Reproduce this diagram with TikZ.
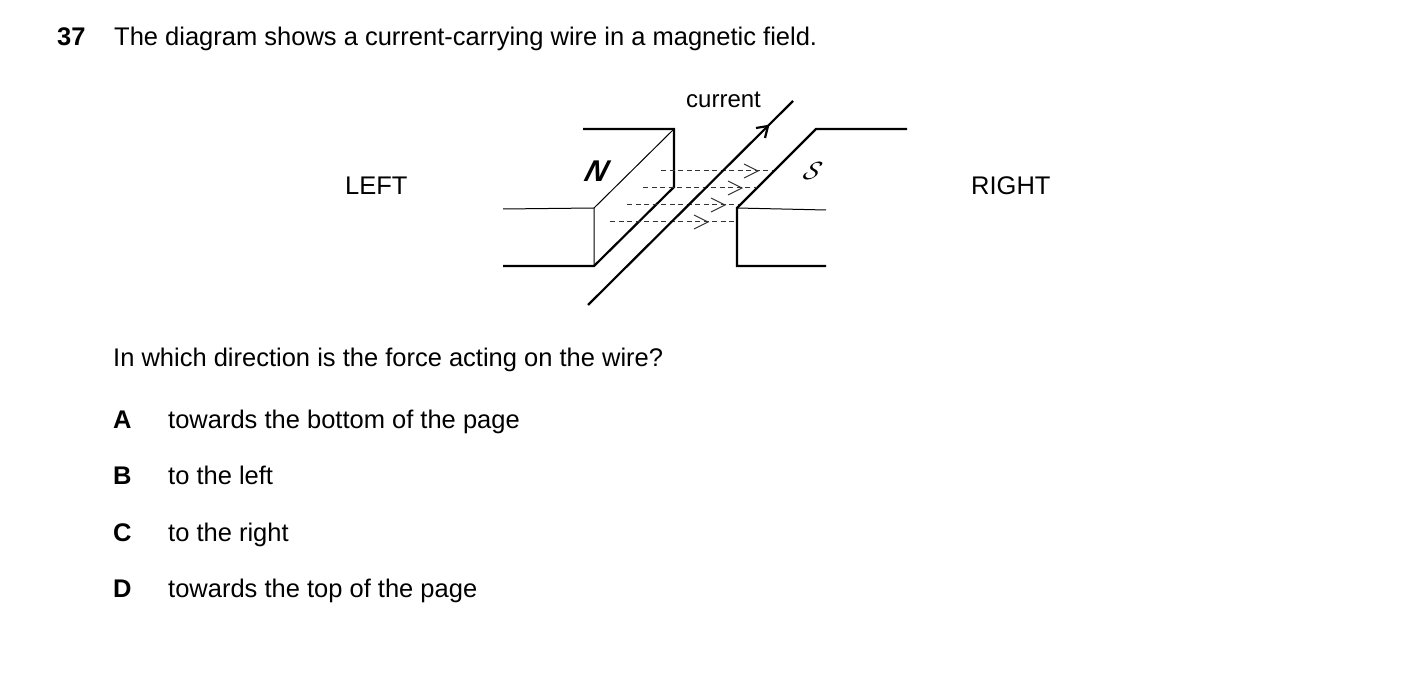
\documentclass[tikz,border=0pt]{standalone}
\usepackage{fontspec}
\setmainfont{Liberation Sans}
\usetikzlibrary{arrows.meta,calc}
\begin{document}
\begin{tikzpicture}[x=1pt,y=-1pt,
  txt/.style={anchor=base west,inner sep=0pt,font=\fontsize{25.5}{30}\selectfont},
  thick line/.style={line width=2.2pt},
  thin line/.style={line width=1pt},
  field/.style={line width=1pt,dash pattern=on 5pt off 3.5pt,black!80},
  opn/.style={line width=1pt,black!80}]
\useasboundingbox (0,0) rectangle (1403,695);
\node[txt,font=\bfseries\fontsize{25.5}{30}\selectfont] (q) at (57,46) {37};
\node[txt] (t) at (114,46) {The diagram shows a current-carrying wire in a magnetic field.};
% N magnet
\coordinate (n1) at (583,129); \coordinate (n2) at (674,129);
\coordinate (n3) at (674,187); \coordinate (n4) at (594,208);
\coordinate (n5) at (594,266); \coordinate (n6) at (503,209);
\coordinate (n7) at (503,266);
\draw[thick line] (n1) -- (n2) -- (n3) -- (n5) -- (n7);
\draw[thin line] (n2) -- (n4) -- (n5);
\draw[thin line] (n6) -- (n4);
% S magnet
\coordinate (s1) at (907,129); \coordinate (s2) at (816,129);
\coordinate (s3) at (737,208); \coordinate (s4) at (737,266);
\coordinate (s5) at (826,266); \coordinate (s6) at (826,210);
\draw[thick line] (s1) -- (s2) -- (s3) -- (s4) -- (s5);
\draw[thin line] (s3) -- (s6);
% field lines
\foreach \y/\a/\b/\h in {171/661/773/758, 188/643/757/742, 205/627/738/725, 222/610/735/708}{
  \coordinate (fa) at (\a,\y); \coordinate (fb) at (\b,\y);
  \draw[field] (fa) -- (fb);
  \draw[opn] (\h-14,\y-7) -- (\h,\y) -- (\h-14,\y+7);
}
% wire
\coordinate (w1) at (588,305); \coordinate (w2) at (793,101); \coordinate (wm) at (768,126);
\draw[thick line] (w1) -- (w2);
\draw[thick line] ($(wm)+(-12,2)$) -- (wm) -- ($(wm)+(-3,12)$);
\node[txt,font=\fontsize{24}{28}\selectfont] (cur) at (686,108) {current};
\node[font=\itshape\bfseries\fontsize{30}{30}\selectfont,xslant=0.3] (N) at (597,171) {N};
\node[font=\itshape\fontsize{32}{30}\selectfont,xslant=0.3] (S) at (813,171) {$\mathcal{S}$};
\node[txt] (L) at (345,195) {LEFT};
\node[txt] (R) at (971,195) {RIGHT};
\node[txt] (qq) at (113,366) {In which direction is the force acting on the wire?};
\foreach \l/\s/\y in {A/towards the bottom of the page/428, B/to the left/484, C/to the right/541, D/towards the top of the page/597}{
  \node[txt,font=\bfseries\fontsize{25.5}{30}\selectfont] at (113,\y) {\l};
  \node[txt] at (168,\y) {\s};
}
\end{tikzpicture}
\end{document}
